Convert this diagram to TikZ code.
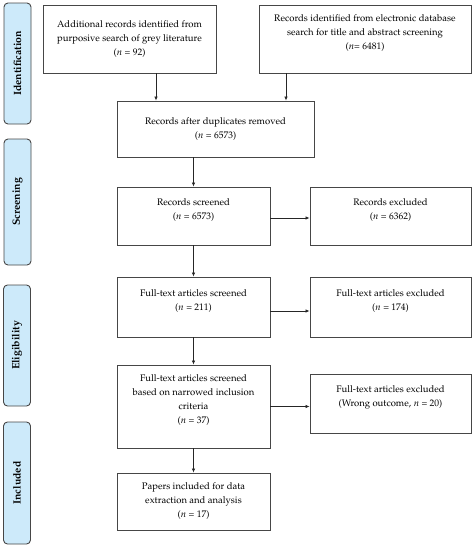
\documentclass[tikz,border=0pt]{standalone}
\usepackage[T1]{fontenc}
\usepackage{mathpazo}
\usetikzlibrary{arrows.meta}
\definecolor{boxline}{RGB}{70,70,70}
\definecolor{phasefill}{RGB}{205,234,250}

\begin{document}
\begin{tikzpicture}[x=1pt,y=-1pt, every node/.style={font=\fontsize{9.5}{14}\selectfont, align=center},
    box/.style={draw=boxline, line width=0.9pt, inner sep=2pt},
    phase/.style={draw=boxline, fill=phasefill, rounded corners=4pt, line width=0.9pt, rotate=90, minimum height=27pt, font=\bfseries\fontsize{10.5}{12}\selectfont},
    arr/.style={-{Latex[length=4pt,width=3.5pt]}, line width=0.7pt, black!85}]
  \useasboundingbox (0,0) rectangle (474,550);
  % phases
  \node[phase, minimum width=121pt] (ident) at (17.5,63.5) {Identification};
  \node[phase, minimum width=126pt] (screen) at (17.5,202) {Screening};
  \node[phase, minimum width=121pt] (elig) at (17,345.5) {Eligibility};
  \node[phase, minimum width=122pt] (incl) at (17,483) {Included};
  % boxes
  \node[box, minimum width=173pt, minimum height=68pt] (grey) at (129.5,39) {Additional records identified from\\purposive search of grey literature\\($n$ = 92)};
  \node[box, minimum width=212pt, minimum height=68pt] (dbase) at (365,39) {Records identified from electronic database\\search for title and abstract screening\\($n$= 6481)\\~};
  \node[box, minimum width=197pt, minimum height=56pt] (dupl) at (215.5,129) {Records after duplicates removed\\($n$ = 6573)};
  \node[box, minimum width=153pt, minimum height=58pt] (scr) at (193.5,216) {Records screened\\($n$ = 6573)\\~};
  \node[box, minimum width=161pt, minimum height=58pt] (scrx) at (390.5,216) {Records excluded\\($n$ = 6362)\\~};
  \node[box, minimum width=153pt, minimum height=60pt] (full) at (193.5,307) {Full-text articles screened\\($n$ = 211)\\~};
  \node[box, minimum width=161pt, minimum height=60pt] (fullx) at (390.5,307) {Full-text articles excluded\\($n$ = 174)\\~};
  \node[box, minimum width=153pt, minimum height=83pt] (narrow) at (193.5,406.5) {Full-text articles screened\\based on narrowed inclusion\\criteria\\($n$ = 37)\\~};
  \node[box, minimum width=161pt, minimum height=59pt] (narrowx) at (390.5,403.5) {Full-text articles excluded\\(Wrong outcome, $n$ = 20)\\~};
  \node[box, minimum width=153pt, minimum height=57pt] (papers) at (193.5,501.5) {Papers included for data\\extraction and analysis\\($n$ = 17)};
  % connectors
  \draw[arr] ([xshift=26.5pt]grey.south) -- ([xshift=26.5pt]grey.south |- dupl.north);
  \draw[arr] ([xshift=-79pt]dbase.south) -- ([xshift=-79pt]dbase.south |- dupl.north);
  \draw[arr] (dupl.south -| scr.north) -- (scr.north);
  \draw[arr] ([yshift=-2pt]scr.east) -- ([yshift=-2pt]scr.east -| scrx.west);
  \draw[arr] ([yshift=-4pt]full.east) -- ([yshift=-4pt]full.east -| fullx.west);
  \draw[arr] (narrow.east) -- (narrow.east -| narrowx.west);
  \foreach \a/\b in {scr/full,full/narrow,narrow/papers}
    \draw[arr] (\a) -- (\b);
\end{tikzpicture}
\end{document}
